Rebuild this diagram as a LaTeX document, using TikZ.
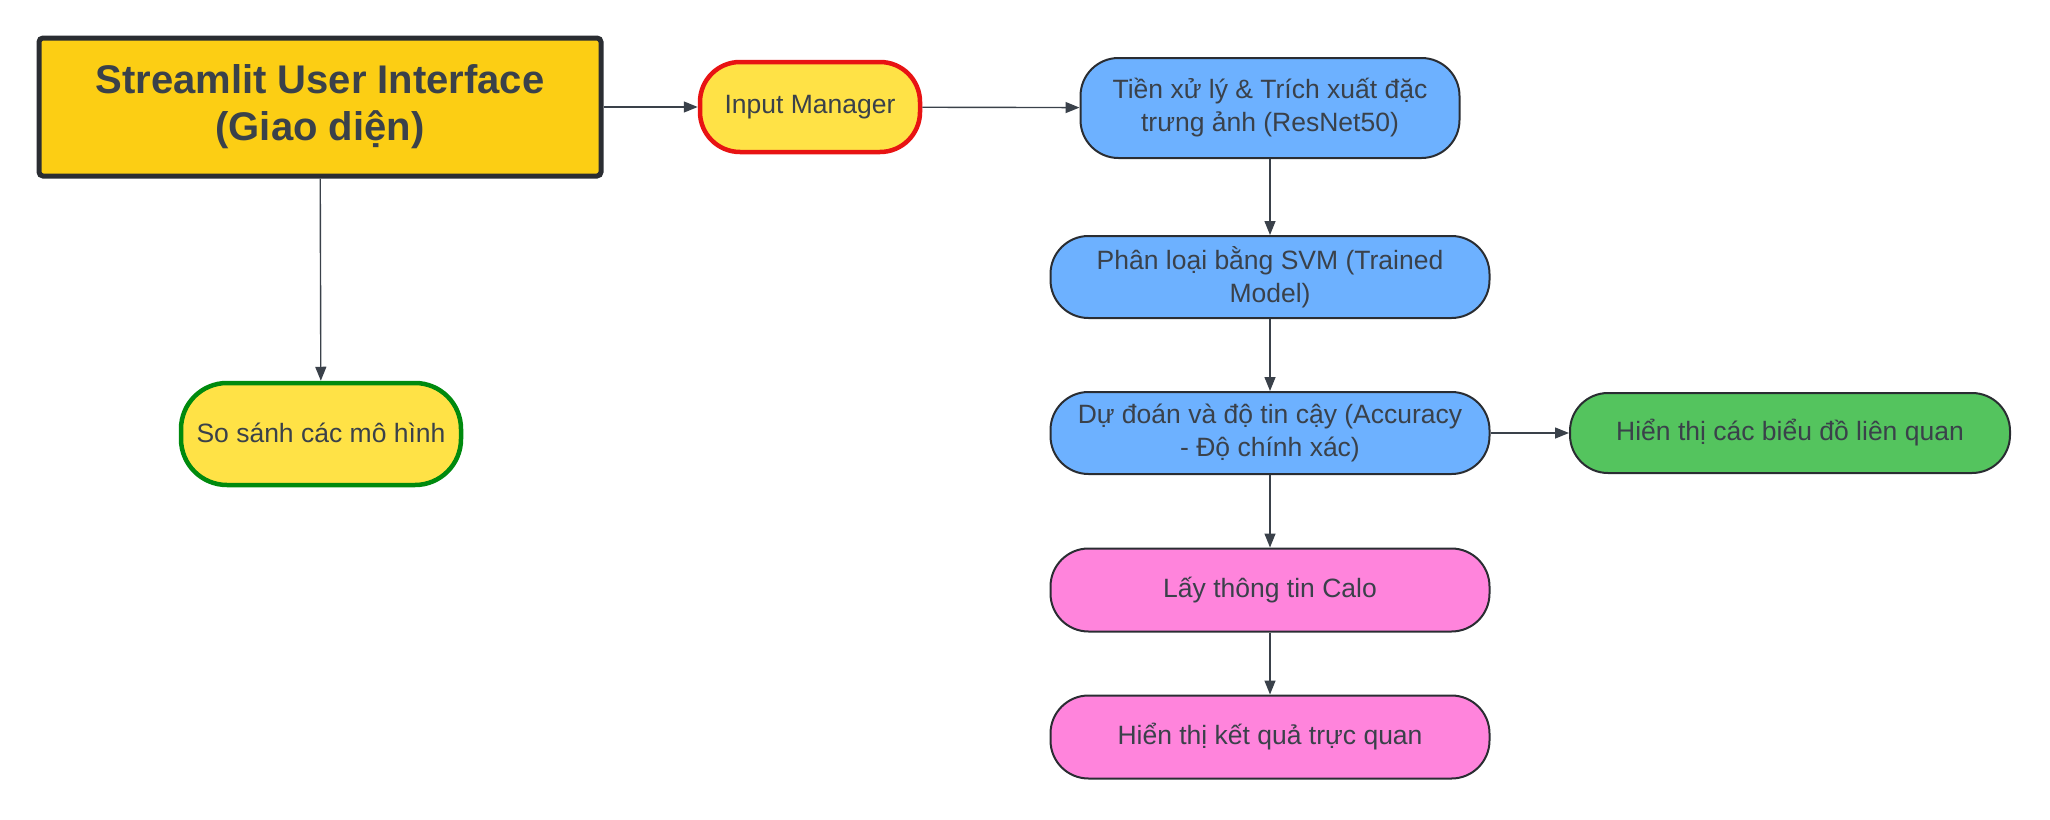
\documentclass[tikz,border=0pt]{standalone}
\usepackage{fontspec}
\setmainfont{Liberation Sans}
\usetikzlibrary{arrows.meta}
\definecolor{uiyellow}{HTML}{FCCE14}
\definecolor{inyellow}{HTML}{FFE246}
\definecolor{edgered}{HTML}{E81313}
\definecolor{edgegreen}{HTML}{008A0E}
\definecolor{boxblue}{HTML}{6DB1FF}
\definecolor{boxgreen}{HTML}{54C45E}
\definecolor{boxpink}{HTML}{FF84DC}
\definecolor{ink}{HTML}{3A414A}
\definecolor{frame}{HTML}{2A2D32}
\begin{document}
\begin{tikzpicture}[x=1pt, y=-1pt,
  pill/.style={draw=frame, line width=2pt, rounded corners=38pt, align=center,
    text=ink, font=\fontsize{26.5}{33}\selectfont, inner sep=0pt},
  flow/.style={draw=ink, line width=1.4pt, -{Triangle[length=14pt,width=11pt]}}]
\useasboundingbox (0,0) rectangle (2050,819);
\begin{scope}
  % user interface and input side
  \node[draw=frame, line width=5pt, rounded corners=4pt, fill=uiyellow, text=ink,
    minimum width=562pt, minimum height=138pt, align=center,
    font=\bfseries\fontsize{40}{47}\selectfont] (ui) at (320,107)
    {Streamlit User Interface\\(Giao diện)};
  \node[pill, fill=inyellow, draw=edgered, line width=4.5pt, rounded corners=40pt,
    minimum width=220pt, minimum height=90pt] (input) at (810,107) {Input Manager};
  \node[pill, fill=inyellow, draw=edgegreen, line width=4.5pt, rounded corners=46pt,
    minimum width=280pt, minimum height=102pt] (compare) at (321,434)
    {\raisebox{3pt}{So sánh các mô hình}};
  % processing chain
  \node[pill, fill=boxblue, minimum width=379pt, minimum height=100pt] (feat) at (1270,108)
    {Tiền xử lý \& Trích xuất đặc\\trưng ảnh (ResNet50)};
  \node[pill, fill=boxblue, minimum width=439pt, minimum height=82pt] (svm) at (1270,277)
    {Phân loại bằng SVM (Trained\\Model)};
  \node[pill, fill=boxblue, minimum width=439pt, minimum height=82pt] (pred) at (1270,433)
    {Dự đoán và độ tin cậy (Accuracy\\- Độ chính xác)};
  \node[pill, fill=boxgreen, minimum width=440pt, minimum height=80pt] (chart) at (1790,433)
    {\raisebox{2pt}{Hiển thị các biểu đồ liên quan}};
  \node[pill, fill=boxpink, minimum width=439pt, minimum height=83pt] (calo) at (1270,590)
    {\raisebox{3pt}{Lấy thông tin Calo}};
  \node[pill, fill=boxpink, minimum width=439pt, minimum height=83pt] (result) at (1270,737)
    {\raisebox{3pt}{Hiển thị kết quả trực quan}};
  % connectors
  \draw[flow] (ui) -- (input);
  \draw[flow] (input) -- (feat);
  \draw[flow] (ui) -- (compare);
  \draw[flow] (feat) -- (svm);
  \draw[flow] (svm) -- (pred);
  \draw[flow] (pred) -- (chart);
  \draw[flow] (pred) -- (calo);
  \draw[flow] (calo) -- (result);
\end{scope}
\end{tikzpicture}
\end{document}
